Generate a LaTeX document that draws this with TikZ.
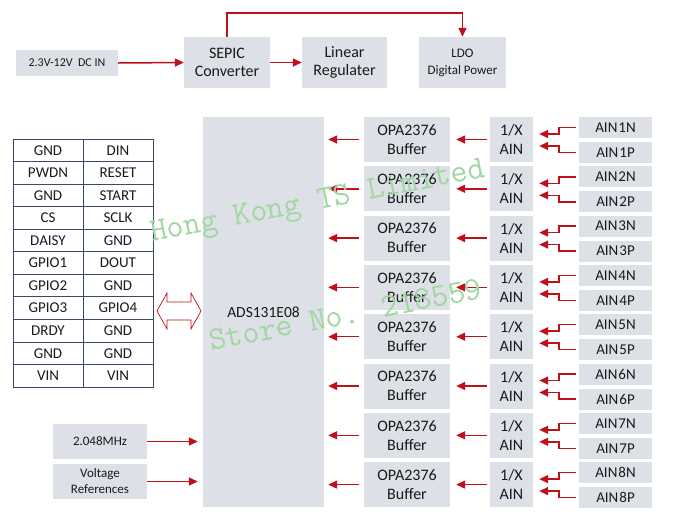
\documentclass[tikz,border=0pt]{standalone}
\usepackage{fontspec}
\setmainfont{Carlito}
\usetikzlibrary{arrows.meta,calc}
\definecolor{boxgray}{HTML}{DDE0E6}
\definecolor{arrred}{HTML}{C0101A}
\definecolor{txt}{HTML}{1A1A1A}
\definecolor{tblline}{HTML}{3A4A66}
\definecolor{wmgreen}{HTML}{A2D6A2}
\tikzset{
  box/.style={fill=boxgray, inner sep=0pt, align=center, text=txt},
  arr/.style={draw=arrred, line width=1.5pt, -{Triangle[length=9pt,width=8pt]}},
  cell/.style={draw=tblline, line width=0.9pt, minimum width=70pt, minimum height=22.55pt, inner sep=0pt, text=txt, font=\fontsize{15}{17}\selectfont},
  wm/.style={text=wmgreen, rotate=11, anchor=base west, inner sep=0pt, font=\ttfamily\fontsize{33}{34}\selectfont},
}
\begin{document}
\begin{tikzpicture}[x=1pt,y=-1pt]
\useasboundingbox (0,0) rectangle (685,528);
% top power chain
\node[box, minimum width=102pt, minimum height=26pt, font=\fontsize{12}{14}\selectfont] (dc) at (67,63) {2.3V-12V~~DC IN};
\node[box, minimum width=86pt, minimum height=51pt, font=\fontsize{16}{18.5}\selectfont] (sepic) at (227,62.5) {SEPIC\\Converter};
\node[box, minimum width=85pt, minimum height=51pt, font=\fontsize{16}{18.5}\selectfont] (lin) at (344.5,62.5) {Linear\\Regulater};
\node[box, minimum width=87pt, minimum height=51pt, font=\fontsize{13}{17}\selectfont] (ldo) at (462.5,62.5) {LDO\\Digital Power};
\coordinate (tp) at (0,13);
\draw[arr] (dc.east) -- (sepic.west);
\draw[arr] (sepic.east) -- (lin.west);
\draw[arr] (sepic.north) -- (sepic.north |- tp) -| (ldo.north);
% pin table
\foreach \l/\r [count=\i] in {GND/DIN, PWDN/RESET, GND/START, CS/SCLK, DAISY/GND, GPIO1/DOUT, GPIO2/GND, GPIO3/GPIO4, DRDY/GND, GND/GND, VIN/VIN}{
  \node[cell] (tl\i) at (48,{139+22.55*(\i-0.5)}) {\l};
  \node[cell] (tr\i) at (118,{139+22.55*(\i-0.5)}) {\r};
}
% ADC
\node[box, minimum width=121pt, minimum height=390pt, font=\fontsize{15.5}{18}\selectfont] (ads) at (263.5,312) {ADS131E08};
% double arrow
\coordinate (da) at (179,311);
\draw[draw=arrred, line width=0.7pt, fill=white]
  ($(da)+(-22,0)$) -- ++(10,-18) -- ++(0,9) -- ++(24,0) -- ++(0,-9) -- ++(10,18)
  -- ++(-10,18) -- ++(0,-9) -- ++(-24,0) -- ++(0,9) -- cycle;
% clock and refs
\node[box, minimum width=94pt, minimum height=35pt, font=\fontsize{13}{16}\selectfont] (clk) at (100,441.5) {2.048MHz};
\node[box, minimum width=94pt, minimum height=35pt, font=\fontsize{13}{16}\selectfont] (vref) at (100,481.5) {Voltage\\References};
\draw[arr, shorten >=5pt] (clk.east) -- (clk.east -| ads.west);
\draw[arr, shorten >=5pt] (vref.east) -- (vref.east -| ads.west);
% channels
\foreach \i in {1,...,8}{
  \pgfmathsetmacro{\t}{117+49.3*(\i-1)}
  \node[box, minimum width=86pt, minimum height=45pt, font=\fontsize{16}{19}\selectfont] (buf\i) at (407,\t+22.5) {OPA2376\\Buffer};
  \node[box, minimum width=43pt, minimum height=45pt, font=\fontsize{16}{19}\selectfont] (ain\i) at (511.5,\t+22.5) {1/X\\AIN};
  \node[box, minimum width=73pt, minimum height=21pt, font=\fontsize{15}{17}\selectfont] (n\i) at (615.5,\t+10.5) {AIN\kern1pt\i N};
  \node[box, minimum width=73pt, minimum height=21pt, font=\fontsize{15}{17}\selectfont] (p\i) at (615.5,\t+35.5) {AIN\kern1pt\i P};
  \draw[arr, shorten <=5pt, shorten >=4pt] (buf\i.west) -- (buf\i.west -| ads.east);
  \draw[arr, shorten <=3pt, shorten >=6pt] (ain\i.west) -- (buf\i.east);
  \draw[arr] ([xshift=-3pt]n\i.west) -- ++(-17,0) |- ([xshift=6pt,yshift=5.5pt]ain\i.east);
  \draw[arr] ([xshift=-3pt]p\i.west) -- ++(-17,0) |- ([xshift=6pt,yshift=-6.5pt]ain\i.east);
}
% watermark
\node[wm] (wm1) at (152,242) {Hong Kong TS Limited};
\node[wm] (wm2) at (211,351) {Store No. 218559};
\end{tikzpicture}
\end{document}
